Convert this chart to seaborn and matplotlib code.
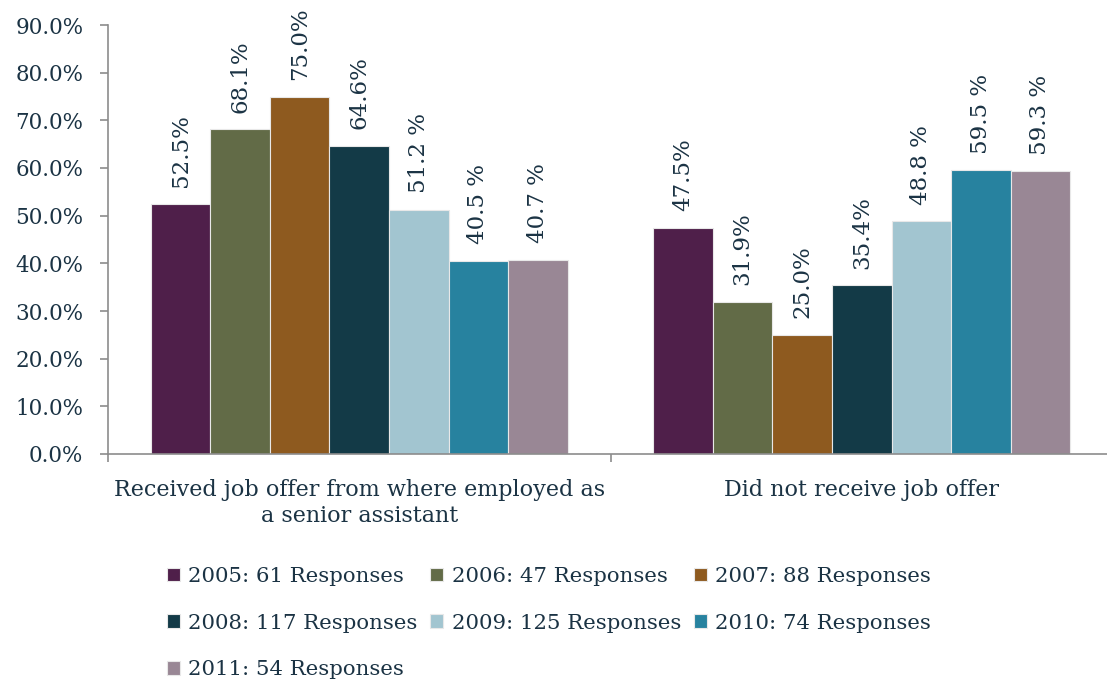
import matplotlib
matplotlib.use("Agg")
import matplotlib.pyplot as plt
import seaborn as sns
import pandas as pd
from matplotlib.ticker import FixedLocator, PercentFormatter

categories = ["Received job offer from where employed as\na senior assistant",
              "Did not receive job offer"]
years = ["2005: 61 Responses", "2006: 47 Responses", "2007: 88 Responses",
         "2008: 117 Responses", "2009: 125 Responses", "2010: 74 Responses",
         "2011: 54 Responses"]
received = [52.5, 68.1, 75.0, 64.6, 51.2, 40.5, 40.7]
not_received = [47.5, 31.9, 25.0, 35.4, 48.8, 59.5, 59.3]
labels_received = ["52.5%", "68.1%", "75.0%", "64.6%", "51.2 %", "40.5 %", "40.7 %"]
labels_not = ["47.5%", "31.9%", "25.0%", "35.4%", "48.8 %", "59.5 %", "59.3 %"]
colors = ["#4F1F4A", "#626B47", "#8E5A1F", "#133A47", "#A2C5D0", "#27829F", "#998795"]
yticks = [0, 10, 20, 30, 40, 50, 60, 70, 80, 90]

rows = []
for y, a, b in zip(years, received, not_received):
    rows.append({"cat": categories[0], "year": y, "val": a})
    rows.append({"cat": categories[1], "year": y, "val": b})
df = pd.DataFrame(rows)

sns.set_style("white")
plt.rcParams["font.family"] = ["DejaVu Serif"]
txt = "#1B3344"

fig = plt.figure(figsize=(11.07, 6.82), dpi=100)
ax = fig.add_axes([108/1107, 1-454/682, 1005/1107, (454-25)/682])

sns.barplot(data=df, x="cat", y="val", hue="year", order=categories,
            hue_order=years, palette=colors, width=0.83, ax=ax,
            edgecolor="#E8E8E8", linewidth=0.8, saturation=1, legend=True)

label_map = {y: (lr, ln) for y, lr, ln in zip(years, labels_received, labels_not)}
for cont, y in zip(ax.containers, years):
    ax.bar_label(cont, labels=list(label_map[y]), rotation=90, padding=12,
                 fontsize=16.5, color=txt)

ax.set_ylim(0, 90)
ax.set_xlim(-0.5, 1.5)
ax.yaxis.set_major_locator(FixedLocator(yticks))
ax.yaxis.set_major_formatter(PercentFormatter(decimals=1))
ax.set_xlabel("")
ax.set_ylabel("")
for s in ["top", "right"]:
    ax.spines[s].set_visible(False)
for s in ["left", "bottom"]:
    ax.spines[s].set_color("#8C8C8C")
    ax.spines[s].set_linewidth(1.2)
ax.tick_params(axis="y", left=True, length=5.8, color="#8C8C8C", width=1.2,
               labelsize=15.5, labelcolor=txt, pad=12)
ax.tick_params(axis="x", which="major", length=0, labelsize=16, labelcolor=txt, pad=18)
for lbl in ax.get_xticklabels():
    lbl.set_linespacing(1.25)
ax.xaxis.set_minor_locator(FixedLocator([-0.5, 0.5, 1.5]))
ax.tick_params(axis="x", which="minor", bottom=True, length=6, color="#8C8C8C", width=1.2)

handles, labs = ax.get_legend_handles_labels()
ax.legend_.remove()
order = [0, 3, 6, 1, 4, 2, 5]
fig.legend([handles[i] for i in order], [labs[i] for i in order], ncol=3,
           loc="upper left", bbox_to_anchor=(167/1107, 1-567/682), frameon=False,
           fontsize=15.3, labelcolor=txt, handlelength=0.6, handleheight=0.6,
           handletextpad=0.4, columnspacing=0.6, labelspacing=1.3,
           borderaxespad=0, borderpad=0)

fig.savefig("out.png", dpi=100)
